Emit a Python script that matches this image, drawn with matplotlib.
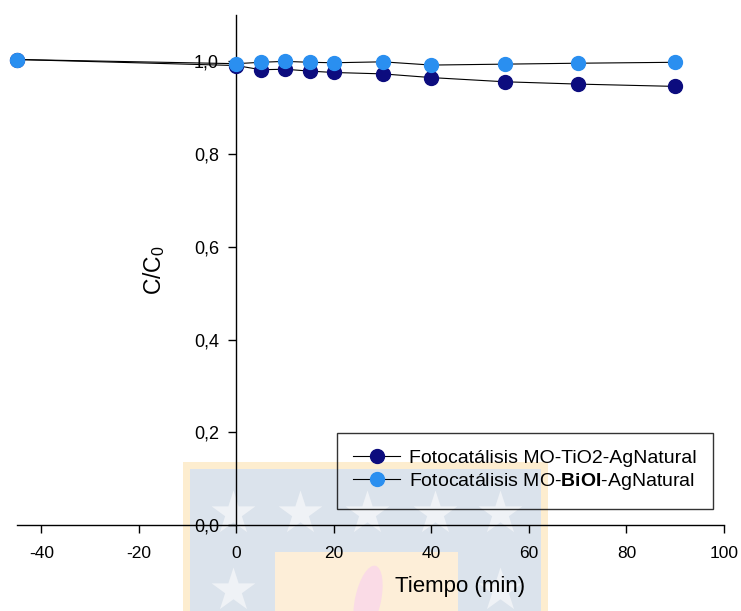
import numpy as np
import matplotlib
matplotlib.use("Agg")
import matplotlib.pyplot as plt
from matplotlib.patches import Rectangle, Ellipse

plt.rcParams["font.family"] = ["Liberation Sans", "DejaVu Sans"]
plt.rcParams["mathtext.fontset"] = "custom"
plt.rcParams["mathtext.rm"] = "Liberation Sans"
plt.rcParams["mathtext.bf"] = "Liberation Sans:bold"
plt.rcParams["axes.unicode_minus"] = False

# === DATA ===
tiempo = [-45, 0, 5, 10, 15, 20, 30, 40, 55, 70, 90]
c_tio2 = [1.004, 0.991, 0.982, 0.983, 0.979, 0.976, 0.973, 0.965, 0.956, 0.951, 0.946]
err_tio2 = [0.0, 0.002, 0.002, 0.002, 0.002, 0.002, 0.002, 0.002, 0.003, 0.002, 0.002]
c_bioi = [1.004, 0.995, 0.998, 1.000, 0.998, 0.997, 0.999, 0.992, 0.994, 0.996, 0.998]
err_bioi = [0.0, 0.002, 0.003, 0.004, 0.003, 0.006, 0.002, 0.002, 0.002, 0.006, 0.002]

label_tio2 = "Fotocatálisis MO-TiO2-AgNatural"
label_bioi = r"Fotocatálisis MO-$\mathbf{BiOI}$-AgNatural"

xticks = [-40, -20, 0, 20, 40, 60, 80, 100]
yticks = [0.0, 0.2, 0.4, 0.6, 0.8, 1.0]
ytick_labels = ["0,0", "0,2", "0,4", "0,6", "0,8", "1,0"]

DARK = "#0c0c7e"
LIGHT = "#2a8ff0"

fig = plt.figure(figsize=(7.41, 6.11), dpi=100)

# --- faint watermark behind the chart (pixel coordinates) ---
bg = fig.add_axes([0, 0, 1, 1], zorder=0)
bg.set_xlim(0, 741)
bg.set_ylim(611, 0)
bg.axis("off")
bg.add_patch(Rectangle((183, 462), 365, 160, color="#fdedcf", lw=0))
bg.add_patch(Rectangle((190, 469), 351, 160, color="#dbe3ec", lw=0))
star_x = [233, 300, 367, 435, 500, 233, 500]
star_y = [513, 513, 513, 513, 513, 590, 590]
bg.scatter(star_x, star_y, marker="*", s=1100, color="#eff2f6", lw=0)
bg.add_patch(Rectangle((275, 552), 183, 70, color="#fdeed8", lw=0))
bg.add_patch(Ellipse((368, 600), 26, 70, angle=12, color="#fadbe6", lw=0))

# --- main chart ---
ax = fig.add_axes([17 / 741, 1 - 525 / 611, 707 / 741, 510 / 611], zorder=1)
ax.patch.set_visible(False)

eb1 = ax.errorbar(tiempo, c_tio2, yerr=err_tio2, color="black", lw=0.8,
                  marker="o", ms=10, mfc=DARK, mec=DARK, ecolor=DARK,
                  elinewidth=1, capsize=3, label=label_tio2, zorder=3)
eb2 = ax.errorbar(tiempo, c_bioi, yerr=err_bioi, color="black", lw=0.8,
                  marker="o", ms=10, mfc=LIGHT, mec=LIGHT, ecolor=LIGHT,
                  elinewidth=1, capsize=3, label=label_bioi, zorder=4)
# first point sits on the left edge, keep it whole
eb1[0].set_clip_on(False)
eb2[0].set_clip_on(False)

ax.set_xlim(-45, 100)
ax.set_ylim(0, 1.1)

# axes cross at the origin
ax.spines["left"].set_position(("data", 0))
ax.spines["bottom"].set_position(("data", 0))
ax.spines["top"].set_visible(False)
ax.spines["right"].set_visible(False)
for sp in ("left", "bottom"):
    ax.spines[sp].set_linewidth(1.0)

ax.set_xticks(xticks)
ax.set_yticks(yticks)
ax.set_yticklabels(ytick_labels)
ax.tick_params(axis="both", direction="out", length=6, width=1)
ax.tick_params(axis="x", labelsize=12.5, pad=9)
ax.tick_params(axis="y", labelsize=13, pad=6.5)

ax.set_xlabel("Tiempo (min)", fontsize=16)
ax.xaxis.set_label_coords(0.627, -0.10)
ax.set_ylabel("C/C$_0$", fontsize=16.5)
ax.yaxis.set_label_coords(0.212, 0.5)

handles, labels = ax.get_legend_handles_labels()
handles = [h[0] for h in handles]
leg = ax.legend(handles, labels, loc="upper right",
                bbox_to_anchor=(713 / 741, 1 - 433 / 611),
                bbox_transform=fig.transFigure, frameon=True, fancybox=False,
                fontsize=14, handlelength=2.4, handletextpad=0.45,
                borderpad=0.85, labelspacing=0.2, borderaxespad=0)
leg.get_frame().set_edgecolor("black")
leg.get_frame().set_linewidth(1.0)
leg.get_frame().set_facecolor("none")

fig.savefig("out.png", dpi=100)
